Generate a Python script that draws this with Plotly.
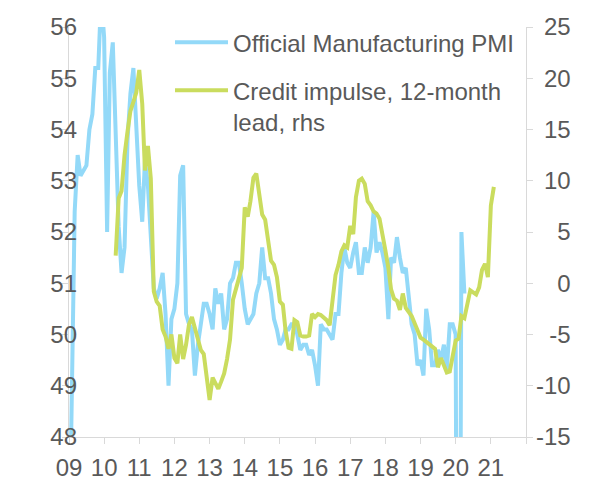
import pandas as pd
import plotly.graph_objects as go

# ---- data ----
pmi_start = "2009-01-01"
pmi_values = [
    45.3, 49.0, 52.4, 53.5, 53.1, 53.2, 53.3, 54.0, 54.3, 55.2, 55.2, 56.6,  # 2009
    55.8, 52.0, 55.1, 55.7, 53.9, 52.1, 51.2, 51.7, 53.8, 54.7, 55.2, 53.9,  # 2010
    52.9, 52.2, 53.4, 52.9, 52.0, 50.9, 50.7, 50.9, 51.2, 50.4, 49.0, 50.3,  # 2011
    50.5, 51.0, 53.1, 53.3, 50.4, 50.2, 50.1, 49.2, 49.8, 50.2, 50.6, 50.6,  # 2012
    50.4, 50.1, 50.9, 50.6, 50.8, 50.1, 50.3, 51.0, 51.1, 51.4, 51.4, 51.0,  # 2013
    50.5, 50.2, 50.3, 50.4, 50.8, 51.0, 51.7, 51.1, 51.1, 50.8, 50.3, 50.1,  # 2014
    49.8, 49.9, 50.1, 50.1, 50.2, 50.2, 50.0, 49.7, 49.8, 49.8, 49.6, 49.7,  # 2015
    49.4, 49.0, 50.2, 50.1, 50.1, 50.0, 49.9, 50.4, 50.4, 51.2, 51.7, 51.4,  # 2016
    51.3, 51.6, 51.8, 51.2, 51.2, 51.7, 51.4, 51.7, 52.4, 51.6, 51.8, 51.6,  # 2017
    51.3, 50.3, 51.5, 51.4, 51.9, 51.5, 51.2, 51.3, 50.8, 50.2, 50.0, 49.4,  # 2018
    49.5, 49.2, 50.5, 50.1, 49.4, 49.4, 49.7, 49.5, 49.8, 49.3, 50.2, 50.2,  # 2019
    50.0, 35.7, 52.0, 50.8,                                                  # 2020
]

credit_start = "2010-05-01"
credit_values = [
    2.7, 8.3, 9.0, 12.5, 14.8, 16.8, 17.7, 18.6,                              # 2010 May-Dec
    20.8, 17.5, 11.0, 13.4, 10.2, -0.8, -1.8, -2.2, -4.5, -5.2, -6.4, -5.0,   # 2011
    -7.3, -7.8, -5.0, -7.4, -6.0, -4.0, -3.3, -4.3, -5.6, -6.5, -6.9, -9.5,   # 2012
    -11.4, -9.2, -9.8, -10.3, -9.6, -8.8, -7.4, -5.5, -1.6, -0.5, 0.5, 1.5,   # 2013
    7.4, 6.5, 8.0, 10.3, 10.7, 8.3, 6.7, 6.2, 4.0, 2.2, 1.8, 0.6,             # 2014
    -1.8, -2.1, -4.6, -6.3, -6.4, -3.6, -3.8, -5.1, -5.2, -5.2, -5.1, -3.0,   # 2015
    -3.3, -3.0, -3.1, -3.3, -3.6, -4.1, -1.2, 0.8, 1.8, 3.1, 3.7, 3.5,        # 2016
    5.6, 4.8, 8.4, 10.0, 10.2, 9.7, 8.0, 7.6, 7.0, 6.8, 6.3, 4.5,             # 2017
    3.2, 1.5, -0.6, -1.5, -1.7, -2.6, -1.0, -2.4, -2.8, -3.2, -3.9, -4.6,     # 2018
    -5.3, -5.5, -5.7, -6.0, -6.2, -6.4, -8.2, -7.3, -8.0, -8.7, -8.6, -7.2,   # 2019
    -5.6, -5.4, -3.2, -3.4, -2.0, -0.7, -0.9, -1.1, -0.4, 1.3, 1.9, 0.6,      # 2020
    7.6, 9.4,                                                                 # 2021 Jan-Feb
]

pmi_name = "Official Manufacturing PMI"
credit_name = "Credit impulse, 12-month<br>lead, rhs"

x_tick_dates = [f"{y}-01-01" for y in range(2009, 2023)]
x_tick_labels = ["09", "10", "11", "12", "13", "14", "15", "16", "17", "18", "19", "20", "21", ""]
left_ticks = [48, 49, 50, 51, 52, 53, 54, 55, 56]
right_ticks = [-15, -10, -5, 0, 5, 10, 15, 20, 25]

# ---- figure ----
pmi_dates = pd.date_range(pmi_start, periods=len(pmi_values), freq="MS")
credit_dates = pd.date_range(credit_start, periods=len(credit_values), freq="MS")

BLUE = "#93D9F8"
GREEN = "#CADC5E"
GREY_TXT = "#595959"
AXIS = "#D9D9D9"
FONT = "Liberation Sans, Arial, sans-serif"


def right_label(v):
    # right-aligned label: invisible padding so that all labels end at the same x
    s = str(v)  # ASCII hyphen for negatives, as in the original
    widths = {"-": 0.333}
    w = sum(widths.get(c, 0.556) for c in s)
    pad = ""
    rest = 1.445 - w
    while rest > 0.5:
        pad += "0"
        rest -= 0.556
    if rest > 0.2:
        pad += "-"
    if pad:
        return f'<span style="color:rgba(0,0,0,0)">{pad}</span>{s}'
    return s


fig = go.Figure()
fig.add_trace(go.Scatter(x=pmi_dates, y=pmi_values, name=pmi_name, mode="lines",
                         line=dict(color=BLUE, width=4), legendgroup="a"))
fig.add_trace(go.Scatter(x=credit_dates, y=credit_values, name=credit_name, mode="lines",
                         line=dict(color=GREEN, width=4), yaxis="y2", legendgroup="b"))

axis_common = dict(showgrid=False, zeroline=False, showline=True, linecolor=AXIS,
                   linewidth=1.3, ticks="outside", ticklen=6, tickcolor=AXIS,
                   tickwidth=1.3, automargin=False)

fig.update_layout(
    width=596, height=485,
    margin=dict(l=61, r=78, t=19, b=56),
    paper_bgcolor="white", plot_bgcolor="white",
    font=dict(family=FONT, size=24, color=GREY_TXT),
    showlegend=True,
    legend=dict(x=(170 - 69) / 457, y=1.017, xanchor="left", yanchor="top",
                bgcolor="rgba(0,0,0,0)", borderwidth=0, itemwidth=53,
                valign="top", tracegroupgap=14,
                font=dict(family=FONT, size=24, color=GREY_TXT)),
    xaxis=dict(type="date", range=["2009-01-01", "2022-01-01"],
               tickvals=x_tick_dates, ticktext=x_tick_labels,
               ticklabelstandoff=3, **axis_common),
    yaxis=dict(range=[48, 56], tickvals=left_ticks, ticktext=[str(v) for v in left_ticks],
               ticklabelstandoff=-20, **axis_common),
    yaxis2=dict(range=[-15, 25], tickvals=right_ticks,
                ticktext=[right_label(v) for v in right_ticks],
                overlaying="y", side="right", ticklabelstandoff=-2, **axis_common),
)

fig.write_html("out.html")
